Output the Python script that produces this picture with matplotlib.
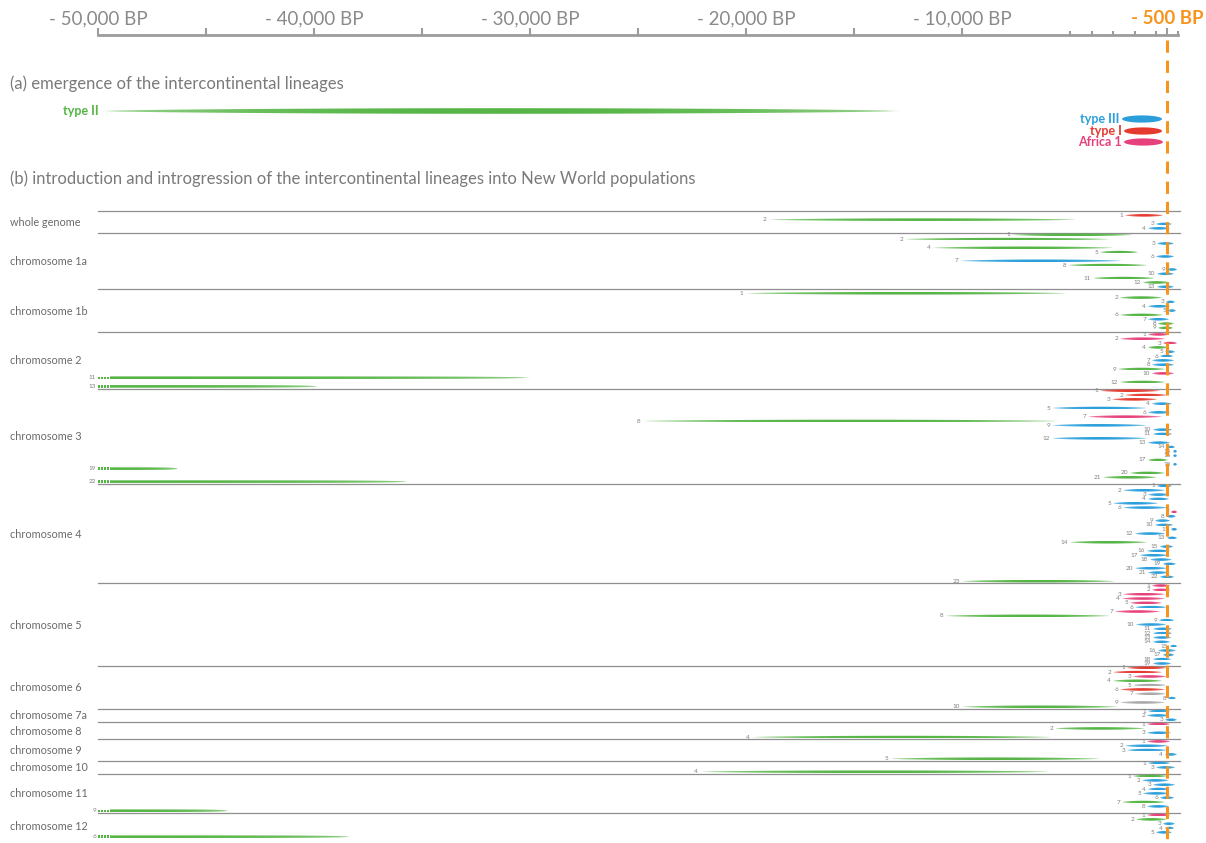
import numpy as np
import matplotlib
matplotlib.use("Agg")
import matplotlib.pyplot as plt
from matplotlib.patches import Polygon
from matplotlib.colors import to_rgb

plt.rcParams["font.family"] = ["Lato", "DejaVu Sans"]

COLORS = {
    "II": "#55b545",
    "III": "#2b9fdb",
    "I": "#e53a2f",
    "A1": "#e6417c",
    "nd": "#a9a9a9",
}
ORANGE = "#f7941d"
GREY_TXT = "#7a7a7a"

# time axis (years BP, negative = past)
label_ticks = [-50000, -40000, -30000, -20000, -10000, -500]
tick_labels = ["- 50,000 BP", "- 40,000 BP", "- 30,000 BP", "- 20,000 BP", "- 10,000 BP", "- 500 BP"]
plain_ticks = [-45000, -35000, -25000, -15000]
small_ticks = [-5000, -4000, -3000, -2000, -1000, 0]

# (a) emergence of the lineages
emerge_names = ["type II", "type III", "type I", "Africa 1"]
emerge_lineage = ["II", "III", "I", "A1"]
emerge_start = [-49860, -2590, -2500, -2500]
emerge_end = [-12870, -740, -740, -695]

# (b) introgression tracts: (number, start BP, end BP, lineage)
# start = -50000 means the tract is older than the axis
whole_genome = [(1, -2455, -695, "I"), (2, -18980, -4675, "II"),
                (3, -1020, -280, "III"), (4, -1390, -370, "III")]
chr1a = [(1, -7685, -2085, "II"), (2, -12640, -3150, "II"), (3, -970, -185, "III"),
         (4, -11345, -3010, "II"), (5, -3610, -1850, "II"), (6, -1020, -185, "III"),
         (7, -10090, -2590, "III"), (8, -5090, -1435, "II"), (9, -510, -45, "III"),
         (10, -970, -185, "III"), (11, -3935, -1065, "II"), (12, -1620, -370, "II"),
         (13, -970, -185, "III")]
chr1b = [(1, -20050, -5140, "II"), (2, -2685, -740, "II"), (3, -555, -140, "III"),
         (4, -1390, -370, "III"), (5, -465, -95, "III"), (6, -2685, -695, "II"),
         (7, -1390, -415, "III"), (8, -925, -185, "II"), (9, -925, -230, "II")]
chr2 = [(1, -1390, -415, "A1"), (2, -2685, -600, "A1"), (3, -695, -45, "A1"),
        (4, -1390, -465, "II"), (5, -600, -140, "III"), (6, -835, -230, "III"),
        (7, -1205, -185, "III"), (8, -1205, -185, "III"), (9, -2780, -600, "II"),
        (10, -1205, -185, "A1"), (11, -50000, -30000, "II"), (12, -2685, -600, "II"),
        (13, -50000, -39820, "II")]
chr3 = [(1, -3610, -835, "I"), (2, -2455, -510, "I"), (3, -3055, -970, "I"),
        (4, -1205, -280, "III"), (5, -5830, -1435, "III"), (6, -1390, -370, "III"),
        (7, -4165, -740, "A1"), (8, -24815, -5465, "II"), (9, -5830, -1435, "III"),
        (10, -1160, -280, "III"), (11, -1160, -280, "III"), (12, -5830, -1435, "III"),
        (13, -1390, -370, "III"), (14, -510, -140, "III"), (15, -230, -45, "III"),
        (16, -230, -45, "III"), (17, -1390, -465, "II"), (18, -230, -45, "III"),
        (19, -50000, -46300, "II"), (20, -2220, -600, "II"), (21, -3470, -970, "II"),
        (22, -50000, -35650, "II")]
chr4 = [(1, -970, -280, "III"), (2, -2545, -600, "III"), (3, -1390, -415, "III"),
        (4, -1390, -415, "III"), (5, -3010, -925, "III"), (6, -2545, -465, "III"),
        (7, -325, -45, "A1"), (8, -555, -95, "III"), (9, -1065, -370, "III"),
        (10, -1065, -230, "III"), (11, -325, -45, "III"), (12, -1990, -600, "III"),
        (13, -510, -45, "III"), (14, -5000, -1435, "II"), (15, -835, -230, "III"),
        (16, -1435, -370, "III"), (17, -1760, -465, "III"), (18, -1295, -280, "III"),
        (19, -695, -95, "III"), (20, -1990, -510, "III"), (21, -1390, -465, "III"),
        (22, -835, -185, "III"), (23, -10000, -2920, "II")]
chr5 = [(1, -1205, -370, "A1"), (2, -1205, -370, "A1"), (3, -2545, -600, "A1"),
        (4, -2590, -600, "A1"), (5, -2220, -740, "A1"), (6, -1990, -510, "III"),
        (7, -2920, -835, "A1"), (8, -10790, -3150, "II"), (9, -880, -185, "III"),
        (10, -1945, -555, "III"), (11, -1160, -280, "III"), (12, -1160, -280, "III"),
        (13, -1160, -325, "III"), (14, -1160, -370, "III"), (15, -370, -45, "III"),
        (16, -925, -95, "III"), (17, -695, -185, "III"), (18, -1160, -325, "III"),
        (19, -1160, -325, "III")]
chr6 = [(1, -2360, -510, "I"), (2, -3010, -740, "I"), (3, -2085, -555, "A1"),
        (4, -3010, -740, "II"), (5, -2085, -555, "nd"), (6, -2685, -600, "I"),
        (7, -1990, -555, "nd"), (8, -465, -95, "III"), (9, -2685, -600, "nd"),
        (10, -10000, -2780, "II")]
chr7a = [(1, -1390, -370, "III"), (2, -1435, -415, "III"), (3, -600, -45, "III")]
chr8 = [(1, -1435, -370, "A1"), (2, -5695, -1530, "II"), (3, -1435, -325, "III"),
        (4, -19720, -5830, "II")]
chr9 = [(1, -1435, -370, "A1"), (2, -2455, -465, "III"), (3, -2360, -510, "III"),
        (4, -600, -45, "III"), (5, -13335, -3610, "II")]
chr10 = [(1, -1390, -370, "III"), (3, -1020, -140, "III"), (4, -22130, -5925, "II")]
chr11 = [(1, -2085, -510, "II"), (2, -1665, -415, "III"), (3, -1160, -140, "III"),
         (4, -1390, -415, "III"), (5, -1620, -415, "III"), (6, -835, -185, "III"),
         (7, -2590, -600, "II"), (8, -1435, -415, "III"), (9, -50000, -43985, "II")]
chr12 = [(1, -1435, -370, "A1"), (2, -1945, -510, "II"), (3, -695, -140, "III"),
         (4, -600, -185, "III"), (5, -1020, -280, "III"), (6, -50000, -38340, "II")]

block_names = ["whole genome", "chromosome 1a", "chromosome 1b", "chromosome 2",
               "chromosome 3", "chromosome 4", "chromosome 5", "chromosome 6",
               "chromosome 7a", "chromosome 8", "chromosome 9", "chromosome 10",
               "chromosome 11", "chromosome 12"]
block_tracts = [whole_genome, chr1a, chr1b, chr2, chr3, chr4, chr5, chr6,
                chr7a, chr8, chr9, chr10, chr11, chr12]
block_extra = [1, 0, 1, 0, 0, 0, 0, 0, 0, 0, 0, 0, 0, 0]

# layout (y in pixels from the top of the figure)
W, H = 1206, 843
AX_TOP = 35
FIRST_BLOCK = 211
STEP = 4.33
PX = 50000 / 1080.0  # years per pixel


def add_lens(ax, x0, x1, yc, half, color, shape="lens", n=80):
    t = np.linspace(0, 1, n + 1)
    if shape == "ellipse":
        prof = np.sqrt(np.clip(1 - (2 * t - 1) ** 2, 0, 1))
        alpha = np.ones_like(t)
    elif shape == "cut":
        prof = np.sqrt(np.clip(1 - t ** 6, 0, 1))
        alpha = 0.45 + 0.55 * np.sin(np.pi * (0.5 + 0.5 * t)) ** 0.3
    else:
        prof = np.sin(np.pi * t) ** 0.6
        alpha = 0.3 + 0.7 * np.sin(np.pi * t) ** 0.35
    xs = x0 + (x1 - x0) * t
    outline = np.column_stack([np.r_[xs, xs[::-1]],
                               np.r_[yc - half * prof, (yc + half * prof)[::-1]]])
    patch = Polygon(outline, closed=True, facecolor="none", edgecolor="none")
    ax.add_patch(patch)
    img = np.zeros((1, n + 1, 4))
    img[..., :3] = to_rgb(color)
    img[0, :, 3] = alpha
    im = ax.imshow(img, extent=(x0, x1, yc + half, yc - half), aspect="auto",
                   interpolation="bilinear", zorder=3)
    im.set_clip_path(patch)


fig = plt.figure(figsize=(W / 100, H / 100), dpi=100)
ax = fig.add_axes([98 / W, 0, 1080 / W, (H - AX_TOP) / H])

lab_tr = ax.get_yaxis_transform()
left_x = (10 - 98) / 1080.0

# (a)
ax.text(left_x, 84, "(a) emergence of the intercontinental lineages", transform=lab_tr,
        ha="left", va="center", fontsize=12, color=GREY_TXT)
emerge_y = [111, 119, 131, 142]
for name, lin, s, e, y in zip(emerge_names, emerge_lineage, emerge_start, emerge_end, emerge_y):
    c = COLORS[lin]
    if lin == "II":
        add_lens(ax, s, e, y, 2.8, c)
    else:
        add_lens(ax, s, e, y, 3.6, c, shape="ellipse")
    ax.text(s - 2.5 * PX, y, name, ha="right", va="center", fontsize=9,
            color=c, fontweight="bold")

# (b)
ax.text(left_x, 179, "(b) introduction and introgression of the intercontinental lineages "
        "into New World populations", transform=lab_tr, ha="left", va="center",
        fontsize=12, color=GREY_TXT)

top = FIRST_BLOCK
for name, tracts, extra in zip(block_names, block_tracts, block_extra):
    slots = len(tracts) + extra
    ax.plot([-50000, 100], [top, top], color="#8f8f8f", lw=0.9, clip_on=False, zorder=1)
    ax.text(left_x, top + slots * STEP / 2 + 0.5, name, transform=lab_tr, ha="left",
            va="center", fontsize=7.8, color="#6a6a6a")
    for k, (num, s, e, lin) in enumerate(tracts):
        y = top + (k + 0.5 + extra / 2) * STEP
        c = COLORS[lin]
        if s <= -50000:
            for d in range(4):
                x0 = -50000 + d * 3 * PX
                ax.add_patch(plt.Rectangle((x0, y - 1.2), 1.8 * PX, 2.4, color=c,
                                           lw=0, clip_on=False, zorder=3))
            add_lens(ax, -50000 + 12 * PX, e, y, 1.3, c, shape="cut")
            ax.text(-50000 - 2 * PX, y, str(num), ha="right", va="center",
                    fontsize=4.6, color="#7f7f7f")
        else:
            add_lens(ax, s, e, y, 1.3, c)
            ax.text(s - 2 * PX, y, str(num), ha="right", va="center",
                    fontsize=4.6, color="#7f7f7f")
    top += slots * STEP

# 500 BP marker
ax.plot([-500, -500], [40, H], color=ORANGE, lw=2.2, dashes=(4, 2.6),
        clip_on=False, zorder=5)

ax.set_xlim(-50000, 0)
ax.set_ylim(H, AX_TOP)

# ruler on top
for s in ["left", "right", "bottom"]:
    ax.spines[s].set_visible(False)
ax.spines["top"].set_color("#9c9c9c")
ax.spines["top"].set_linewidth(2)
ax.yaxis.set_visible(False)
ax.xaxis.set_ticks_position("top")
ax.set_xticks(label_ticks + plain_ticks)
ax.set_xticklabels(tick_labels + [""] * len(plain_ticks))
ax.set_xticks(small_ticks, minor=True)
ax.tick_params(axis="x", which="major", direction="out", length=5, width=1.5,
               color="#9c9c9c", labelsize=13.5, labelcolor="#8a8a8a", pad=0.5)
ax.tick_params(axis="x", which="minor", direction="out", length=3, width=1.5,
               color="#9c9c9c")
for tick in ax.xaxis.get_major_ticks():
    if tick.get_loc() == -500:
        tick.tick2line.set_color(ORANGE)
        tick.label2.set_color(ORANGE)
        tick.label2.set_fontweight("bold")

fig.savefig("out.png", dpi=100)
